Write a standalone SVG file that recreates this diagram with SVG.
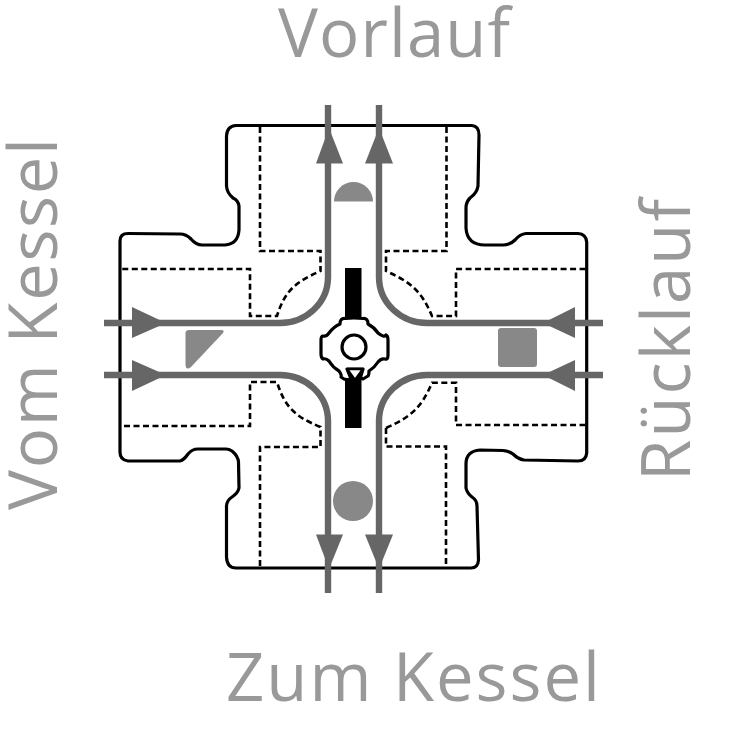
<svg xmlns="http://www.w3.org/2000/svg" width="739" height="750" viewBox="0 0 739 750">
<style>
.o{fill:none;stroke:#000;stroke-width:3.2;stroke-linejoin:round}
.d{fill:none;stroke:#000;stroke-width:2.6;stroke-dasharray:6 3.500}
.p{fill:none;stroke:#666;stroke-width:6.400}
.a{fill:#666}
.s{fill:#888}
.t{font-family:"Open Sans","DejaVu Sans",sans-serif;font-size:67px;fill:#999}
</style>
<rect width="739" height="750" fill="#fff"/>
<g id="body">
<path class="o" d="M236 125.500H472Q479 126 479 135L478 186Q477 193 470 198Q466 202 466 208V228Q467 245 485 245H503Q510 245 515 240Q520 234 526 233.500H578Q586 234 586.700 242V453Q586 461 578 461L524 460Q518 459 513 454Q509 451 503 450.500L480 450Q466 451 466 464V488Q467 493 472 497Q477 500 477 506L478.500 560Q478 568 471 568H236Q227 568 226.500 557V506Q227 500 232 497Q238 493 239 488L238.500 462Q238 456 232 451Q229 449 226 449H198Q192 449 188 454Q184 460 180 461H128Q120 460 120 452V241Q120 233.500 128 233.500L180 234Q186 234 191 239Q196 245 202 245H225Q238 244 239 230V206Q238 200 233 198Q227 193 226.500 186V136Q227 126 236 125.500Z"/>
</g>
<g id="dashes">
<path class="d" d="M260 127V251H320.500V271C296 282 285 290 277 316H250V269H121"/>
<path class="d" d="M446.500 127V251H386V271C410 282 421 290 432 316H456V269H586"/>
<path class="d" d="M386 428V446.500H446V567"/>
<path class="d" d="M386 428C410 417 421 409 432 382.700H456V425H586"/>
<path class="d" d="M124 426H250V382H277C285 408 296 417 320.500 427V447H260V567"/>
</g>
<g id="connectors">
<path class="p" d="M328 105V277C328 303 306 323 280 323H104"/>
<path class="p" d="M379 105V277C379 303 401 323 427 323H603"/>
<path class="p" d="M328 593V421C328 395 306 375 280 375H104"/>
<path class="p" d="M379 593V421C379 395 401 375 427 375H603"/>
<path class="a" d="M329 128L343 163.500H316Z"/>
<path class="a" d="M379 128L393 163.500H365Z"/>
<path class="a" d="M329 569L316 534.500H343Z"/>
<path class="a" d="M379 569L365 534.500H393Z"/>
<path class="a" d="M166 323L132 307V338Z"/>
<path class="a" d="M166 375L132 360V391Z"/>
<path class="a" d="M543 323L575 307V338Z"/>
<path class="a" d="M543 375L575 360V391Z"/>
</g>
<g id="markers">
<path class="s" d="M334 201.500A19.500 19.500 0 0 1 373 201.500Z"/>
<circle class="s" cx="353" cy="501" r="20"/>
<rect class="s" x="498" y="328" width="39" height="39" rx="3"/>
<path class="s" d="M189 330H221Q225 330 223 333L191 367Q186 371 185.500 365V333Q185.500 330 189 330Z"/>
</g>
<g id="valve">
<rect x="345" y="268" width="16.500" height="160"/>
<path d="M340 324Q340 318 345 318.500Q354 317.500 363 318.500Q368 318 368 324A28 28 0 0 1 378 333Q384 338 386 335Q388 336 388 340V355Q388 360 385 359Q381 358 378 362A28 28 0 0 1 369 371Q369 375 368 376L363 379Q359 376 360 379L363 369H347L351 379Q347 380 344 379L341 377Q342 375 339 371A28 28 0 0 1 329 361Q326 358 323 359Q321 358 321 354V340Q321 336 323 336Q326 337 329 333A28 28 0 0 1 340 324Z" fill="#fff" stroke="#000" stroke-width="3.200" stroke-linejoin="round"/>
<path d="M347 369H363L355 380Z" fill="#fff" stroke="#000" stroke-width="2.500" stroke-linejoin="round"/>
<circle cx="354" cy="347" r="12" fill="#fff" stroke="#000" stroke-width="3.200"/>
</g>
<g id="labels">
<text class="t" x="278" y="57" textLength="232" lengthAdjust="spacing">Vorlauf</text>
<text class="t" x="226" y="701" textLength="374" lengthAdjust="spacing">Zum Kessel</text>
<text class="t" transform="translate(57 510) rotate(-90)" textLength="372" lengthAdjust="spacing">Vom Kessel</text>
<text class="t" transform="translate(690 481) rotate(-90)" textLength="282" lengthAdjust="spacing">Rücklauf</text>
</g>
</svg>
